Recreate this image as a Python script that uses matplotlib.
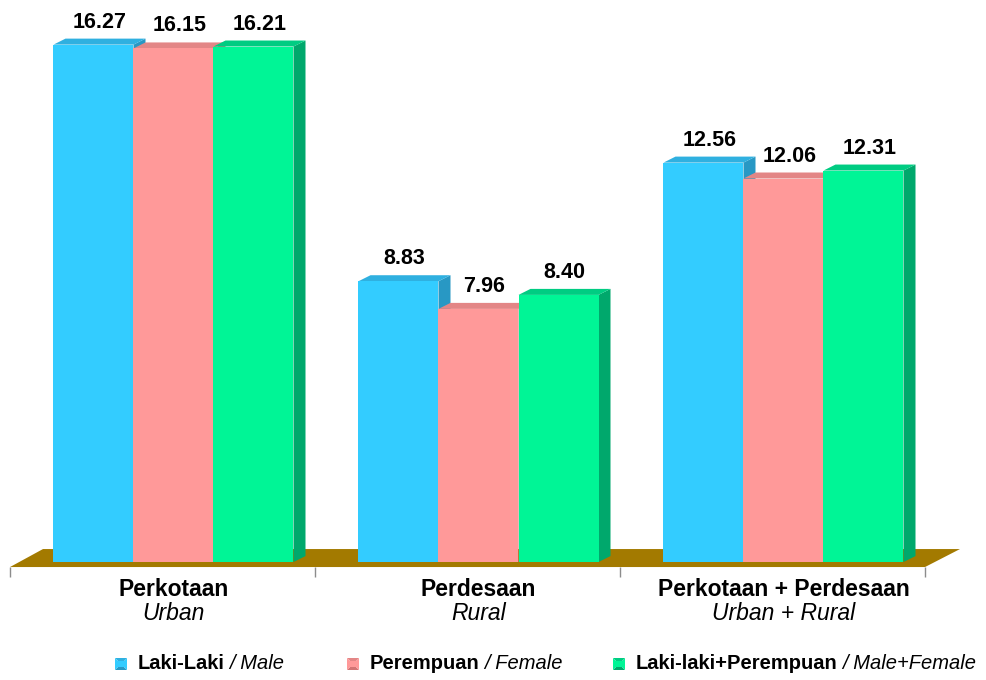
import matplotlib
matplotlib.use("Agg")
import matplotlib.pyplot as plt
from matplotlib.patches import Polygon

plt.rcParams['font.family'] = ['Liberation Sans', 'DejaVu Sans']

# Data
categories = ["Perkotaan", "Perdesaan", "Perkotaan + Perdesaan"]
categories_en = ["Urban", "Rural", "Urban + Rural"]
series = ["Laki-Laki", "Perempuan", "Laki-laki+Perempuan"]
series_en = ["Male", "Female", "Male+Female"]
male = [16.27, 8.83, 12.56]
female = [16.15, 7.96, 12.06]
total = [16.21, 8.40, 12.31]
values = [male, female, total]

# Styling
front_col = ["#33CCFF", "#FF9999", "#00F596"]
side_col = ["#2898C4", "#D27474", "#00A86C"]
top_col = ["#2FB0E0", "#E38686", "#00CC82"]
floor_col = "#A37A00"

W, H = 987, 680
fig = plt.figure(figsize=(W / 100, H / 100), dpi=100)
ax_left, ax_right, ax_top, ax_bottom = 10, 925, 21.4, 600.2
ax = fig.add_axes([ax_left / W, (H - ax_bottom) / H,
                   (ax_right - ax_left) / W, (ax_bottom - ax_top) / H])
ax.set_xlim(-0.5, 2.5)
ax.set_ylim(-1.2, 17.0)

px_x = (ax_right - ax_left) / 3.0          # pixels per category
px_y = (ax_bottom - ax_top) / 18.2         # pixels per unit

bar_w = 80 / px_x
dx = 12 / px_x
dy = 6 / px_y
shift = 11 / px_x

# Floor plane
f_front = -5 / px_y
f_back = 13 / px_y
floor = Polygon([(-0.5, f_front), (2.5, f_front),
                 (2.5 + 35 / px_x, f_back), (-0.5 + 33 / px_x, f_back)],
                closed=True, facecolor=floor_col, edgecolor="none",
                zorder=1, clip_on=False)
ax.add_patch(floor)

# Bars with side and top faces
z = 2
for i in range(len(categories)):
    for k in range(len(series)):
        v = values[k][i]
        cx = i + shift + (k - 1) * bar_w
        x0, x1 = cx - bar_w / 2, cx + bar_w / 2
        side = Polygon([(x1, 0), (x1, v), (x1 + dx, v + dy), (x1 + dx, dy)],
                       closed=True, facecolor=side_col[k], edgecolor="none",
                       zorder=z, clip_on=False)
        topf = Polygon([(x0, v), (x1, v), (x1 + dx, v + dy), (x0 + dx, v + dy)],
                       closed=True, facecolor=top_col[k], edgecolor="none",
                       zorder=z, clip_on=False)
        ax.add_patch(side)
        ax.add_patch(topf)
        ax.bar(cx, v, width=bar_w, color=front_col[k], edgecolor="none",
               zorder=z + 0.5)
        ax.annotate(f"{v:.2f}", xy=(cx + dx / 2, v + dy), xytext=(0, 11),
                    textcoords="offset pixels", ha="center", va="baseline",
                    fontsize=15.5, fontweight="bold", color="#000000",
                    zorder=50)
        z += 1

# Category labels
for i in range(len(categories)):
    cx = i + shift
    ax.text(cx, -34 / px_y, categories[i], ha="center", va="baseline",
            fontsize=16.5, fontweight="bold", color="#000000")
    ax.text(cx, -58 / px_y, categories_en[i], ha="center", va="baseline",
            fontsize=16.5, fontstyle="italic", color="#000000")

# Axis ticks on the floor front edge
for s in ax.spines.values():
    s.set_visible(False)
ax.spines["bottom"].set_position(("data", f_front))
ax.set_xticks([-0.5, 0.5, 1.5, 2.5])
ax.set_xticklabels([])
ax.tick_params(axis="x", direction="out", length=7.5, width=1.0,
               color="#8C8C8C")
ax.set_yticks([])
ax.patch.set_alpha(0)

# Legend
fig.canvas.draw()
renderer = fig.canvas.get_renderer()
leg_x = [115, 347, 613]
leg_base = H - 669
sq = 12
for k in range(len(series)):
    x = leg_x[k]
    y0 = leg_base - 1
    pts = [(x, y0), (x + sq, y0), (x + sq, y0 + sq), (x, y0 + sq)]
    c = (x + sq / 2, y0 + sq / 2)
    shades = [side_col[k], front_col[k], top_col[k], front_col[k]]
    for j in range(4):
        tri = Polygon([pts[j], pts[(j + 1) % 4], c], closed=True,
                      facecolor=shades[j], edgecolor="none",
                      transform=None, figure=fig)
        fig.patches.append(tri)
    inner = Polygon([(x + 3, y0 + 3), (x + sq - 3, y0 + 3),
                     (x + sq - 3, y0 + sq - 3), (x + 3, y0 + sq - 3)],
                    closed=True, facecolor=front_col[k], edgecolor="none",
                    transform=None, figure=fig)
    fig.patches.append(inner)
    t1 = fig.text((x + sq + 11) / W, leg_base / H, series[k],
                  fontsize=14.5, fontweight="bold", color="#000000",
                  va="baseline", ha="left")
    bb = t1.get_window_extent(renderer)
    fig.text((bb.x1 + 4) / W, leg_base / H, "/ " + series_en[k],
             fontsize=14.5, fontstyle="italic", color="#000000",
             va="baseline", ha="left")

fig.savefig("out.png", dpi=100)
